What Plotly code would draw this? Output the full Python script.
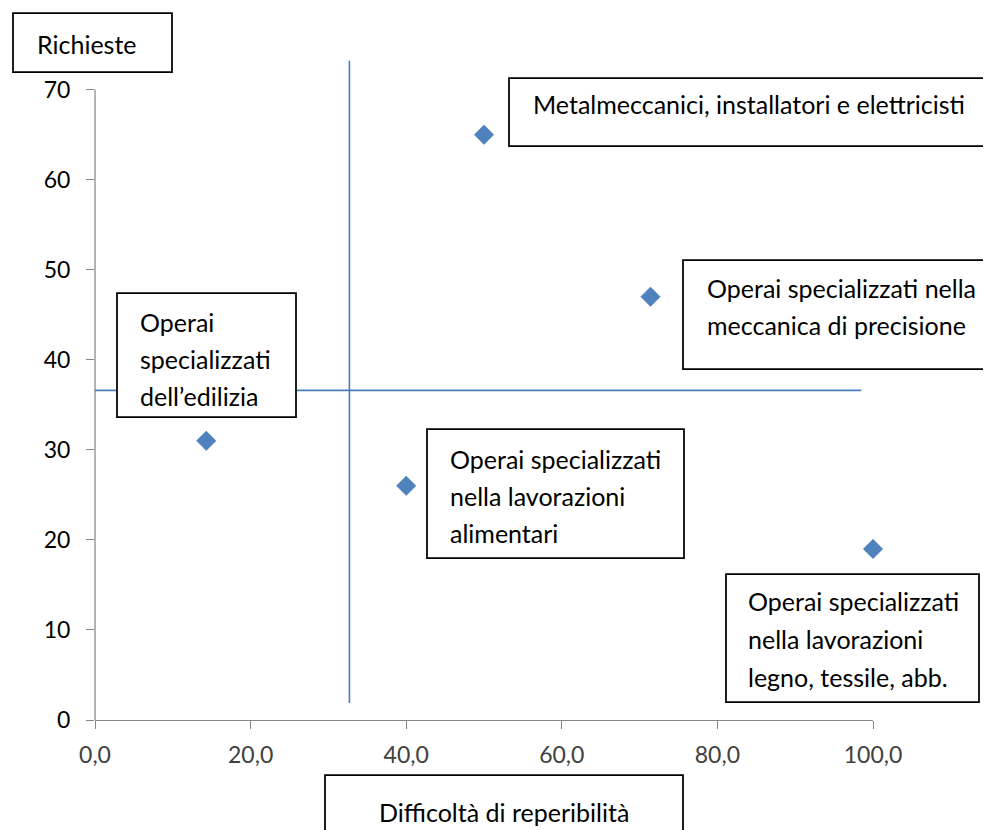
import plotly.graph_objects as go

# ---------------- data ----------------
difficolta = [50.0, 71.4, 14.3, 40.0, 100.0]   # Difficoltà di reperibilità
richieste = [65, 47, 31, 26, 19]                # Richieste
categorie = [
    "Metalmeccanici, installatori e elettricisti",
    "Operai specializzati nella meccanica di precisione",
    "Operai specializzati dell’edilizia",
    "Operai specializzati nella lavorazioni alimentari",
    "Operai specializzati nella lavorazioni legno, tessile, abb.",
]
etichette_righe = [
    ["Metalmeccanici, installatori e elettricisti"],
    ["Operai specializzati nella", "meccanica di precisione"],
    ["Operai", "specializzati", "dell’edilizia"],
    ["Operai specializzati", "nella lavorazioni", "alimentari"],
    ["Operai specializzati", "nella lavorazioni", "legno, tessile, abb."],
]
# quadrant dividers
vline_x = [32.7, 32.7]
vline_y = [1.9, 73.2]
hline_x = [-0.2, 98.5]
hline_y = [36.6, 36.6]

x_ticks = [0, 20, 40, 60, 80, 100]
y_ticks = [0, 10, 20, 30, 40, 50, 60, 70]
x_title = "Difficoltà di reperibilità"
y_title = "Richieste"

# ---------------- layout helpers ----------------
OFF = 8                      # page body margin of the html page
W, H = 991 - OFF, 830 - OFF
PL, PR, PT, PB = 95 - OFF, 873 - OFF, 59 - OFF, 720 - OFF  # plot area in figure px
FONT = "Lato"
FS = 25
TFS = 23


def px(x):
    return (x - OFF - PL) / (PR - PL)


def py(y):
    return (PB - (y - OFF)) / (PB - PT)


# text boxes (page px): (left, top, right, bottom), text left, first line centre y, line step
box_layout = [
    ((509, 78, 1005, 146), 531, 104, 37),
    ((683, 260, 1005, 369), 705, 288, 37),
    ((117, 293, 296, 417), 138, 322, 37),
    ((427, 429, 684, 558), 448, 459, 37),
    ((726, 574, 979, 702), 746, 601, 38),
]
title_boxes = [
    (y_title, (13, 13, 172, 72), 35, 44),
    (x_title, (325, 775, 683, 845), None, 812),
]

fig = go.Figure()

line_style = dict(color="#4a7ebb", width=1.6)
fig.add_trace(go.Scatter(x=vline_x, y=vline_y, mode="lines", line=line_style,
                         hoverinfo="skip", showlegend=False, cliponaxis=False))
fig.add_trace(go.Scatter(x=hline_x, y=hline_y, mode="lines", line=line_style,
                         hoverinfo="skip", showlegend=False, cliponaxis=False))
fig.add_trace(go.Scatter(
    x=difficolta, y=richieste, mode="markers", text=categorie,
    marker=dict(symbol="diamond", size=15, color="#4f81bd",
                line=dict(color="#4a7ebb", width=0.5)),
    showlegend=False, cliponaxis=False,
    hovertemplate="%{text}<br>%{x:.1f}; %{y}<extra></extra>",
))

shapes = []
annotations = []


def add_box(b):
    l, t, r, bt = b
    shapes.append(dict(type="rect", xref="paper", yref="paper",
                       x0=px(l), x1=px(r), y0=py(bt), y1=py(t),
                       line=dict(color="black", width=1.75),
                       fillcolor="white", layer="above"))


for lines, (b, tx, ty, step) in zip(etichette_righe, box_layout):
    add_box(b)
    for i, s in enumerate(lines):
        annotations.append(dict(text=s, xref="paper", yref="paper",
                                x=px(tx), y=py(ty + i * step),
                                xanchor="left", yanchor="middle", showarrow=False,
                                font=dict(family=FONT, size=FS, color="black")))

for s, b, tx, ty in title_boxes:
    add_box(b)
    if tx is None:
        x = px((b[0] + b[2]) / 2)
        xa = "center"
    else:
        x = px(tx)
        xa = "left"
    annotations.append(dict(text=s, xref="paper", yref="paper", x=x, y=py(ty),
                            xanchor=xa, yanchor="middle", showarrow=False,
                            font=dict(family=FONT, size=FS, color="black")))

# y axis line only up to 70
shapes.append(dict(type="line", xref="paper", yref="y", x0=0, x1=0,
                   y0=0, y1=y_ticks[-1], line=dict(color="#868686", width=1.25),
                   layer="below"))

fig.update_layout(
    width=W, height=H,
    margin=dict(l=PL, r=W - PR, t=PT, b=H - PB, pad=0),
    paper_bgcolor="white", plot_bgcolor="white",
    separators=",.",
    font=dict(family=FONT, size=FS, color="black"),
    shapes=shapes, annotations=annotations,
    xaxis=dict(range=[0, 100], tickvals=x_ticks, tickformat=".1f",
               showgrid=False, zeroline=False, showline=True,
               linecolor="#868686", linewidth=1.25,
               ticks="outside", ticklen=8, tickcolor="#868686", tickwidth=1.25,
               tickfont=dict(family=FONT, size=TFS, color="#404040"),
               ticklabelstandoff=6),
    yaxis=dict(range=[0, 73.4], tickvals=y_ticks,
               showgrid=False, zeroline=False, showline=False,
               ticks="outside", ticklen=8, tickcolor="#868686", tickwidth=1.25,
               tickfont=dict(family=FONT, size=TFS, color="black"),
               ticklabelstandoff=11),
)

fig.write_html("out.html")
